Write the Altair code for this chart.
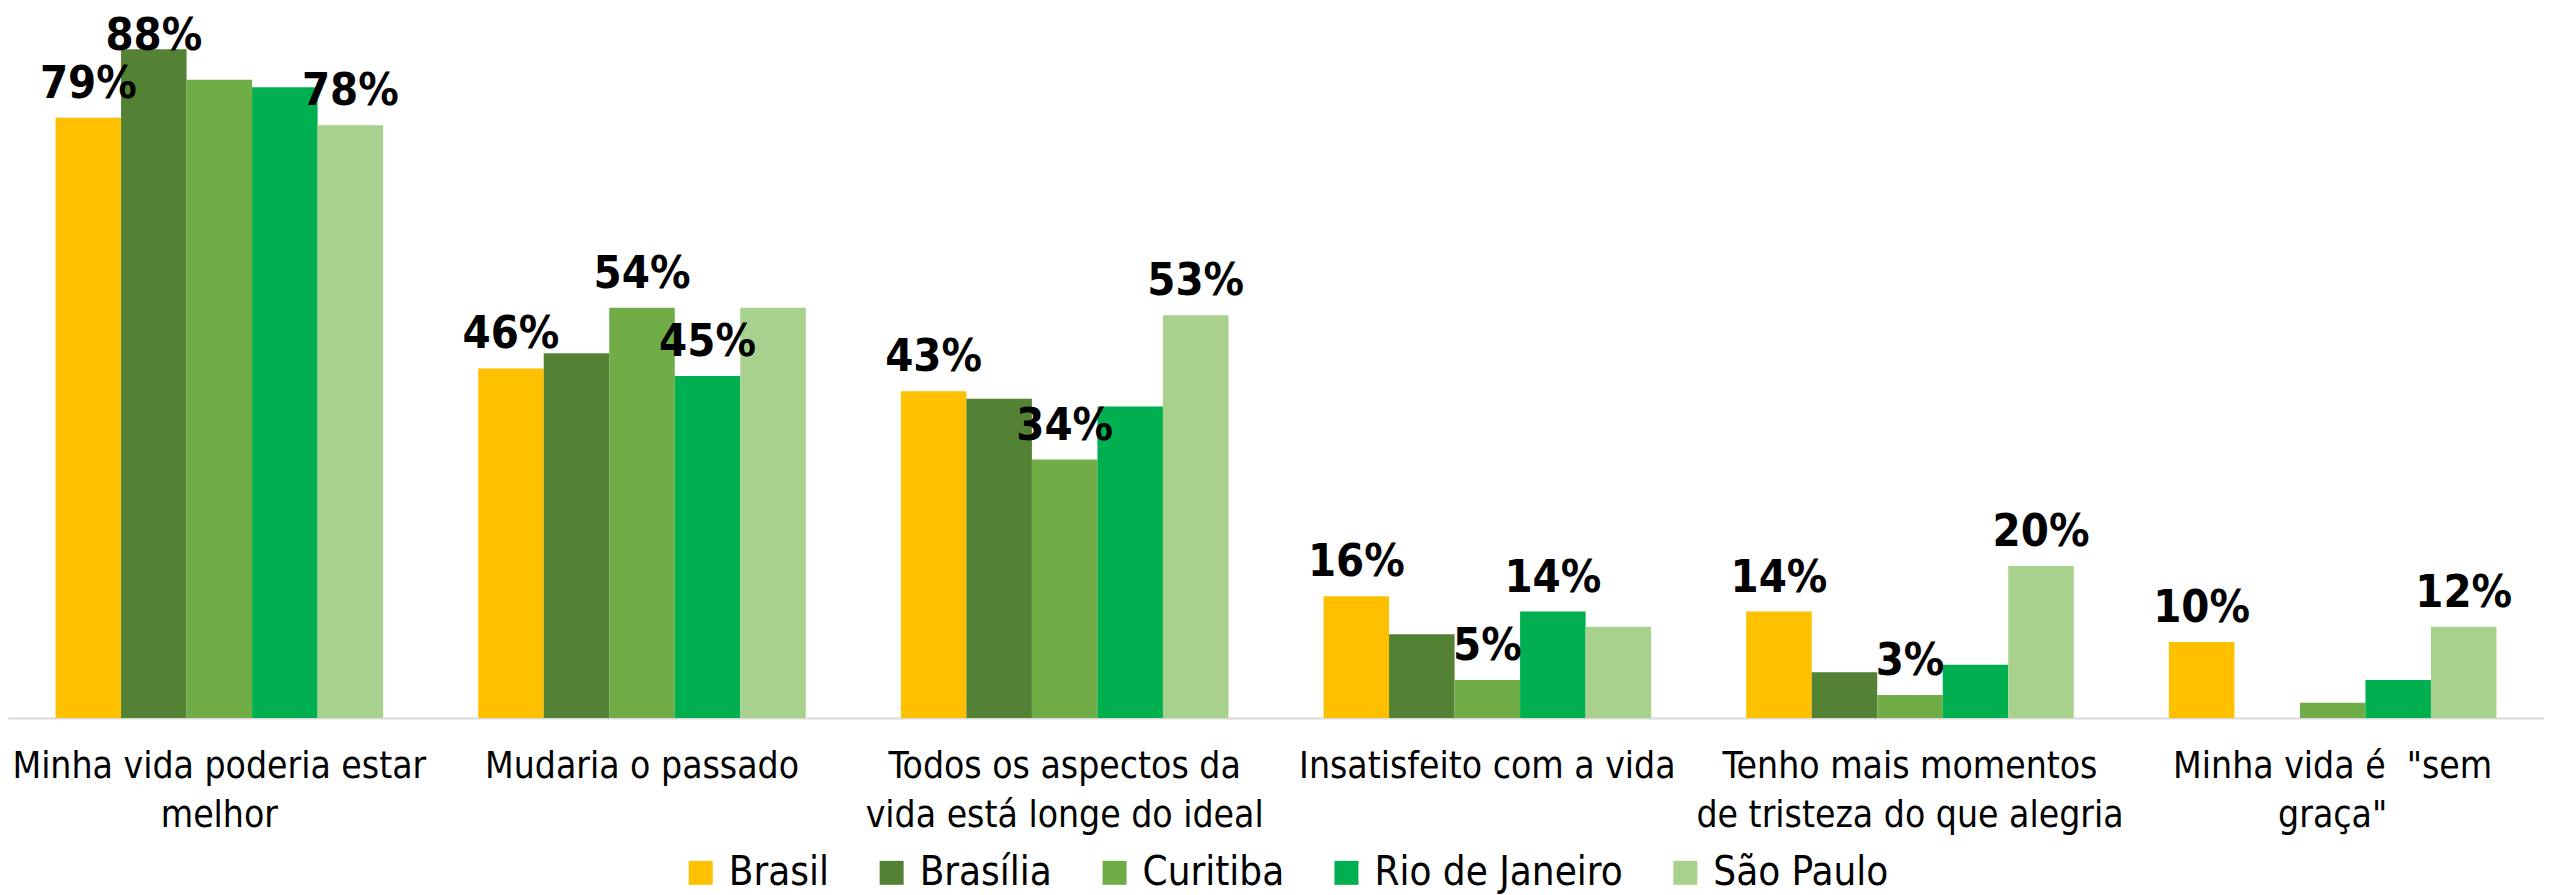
import json
import altair as alt
import pandas as pd

categories = [
    "Minha vida poderia estar melhor",
    "Mudaria o passado",
    "Todos os aspectos da vida está longe do ideal",
    "Insatisfeito com a vida",
    "Tenho mais momentos de tristeza do que alegria",
    'Minha vida é  "sem graça"',
]
category_lines = [
    ["Minha vida poderia estar", "melhor"],
    ["Mudaria o passado"],
    ["Todos os aspectos da", "vida está longe do ideal"],
    ["Insatisfeito com a vida"],
    ["Tenho mais momentos", "de tristeza do que alegria"],
    ['Minha vida é\u00a0 "sem', 'graça"'],
]
series = ["Brasil", "Brasília", "Curitiba", "Rio de Janeiro", "São Paulo"]
colors = ["#FFC000", "#548235", "#70AD47", "#00B050", "#A9D18E"]

brasil = [79, 46, 43, 16, 14, 10]
brasilia = [88, 48, 42, 11, 6, 0]
curitiba = [84, 54, 34, 5, 3, 2]
rio = [83, 45, 41, 14, 7, 5]
sao_paulo = [78, 54, 53, 12, 20, 12]

# which data labels are displayed in the original
show_brasil = [True, True, True, True, True, True]
show_brasilia = [True, False, False, False, False, False]
show_curitiba = [False, True, True, True, True, False]
show_rio = [False, True, False, True, False, False]
show_sao_paulo = [True, False, True, False, True, True]

values = [brasil, brasilia, curitiba, rio, sao_paulo]
shows = [show_brasil, show_brasilia, show_curitiba, show_rio, show_sao_paulo]

rows = []
for s, vals, shw in zip(series, values, shows):
    for c, v, sh in zip(categories, vals, shw):
        rows.append({"categoria": c, "serie": s, "valor": v, "mostrar": sh,
                     "rotulo": f"{v}%"})
df = pd.DataFrame(rows)

label_map = json.dumps(dict(zip(categories, category_lines)), ensure_ascii=False)
FONT = "DejaVu Sans Condensed"

x = alt.X("categoria:N", sort=categories,
          scale=alt.Scale(paddingInner=0.225, paddingOuter=0.1125),
          axis=alt.Axis(title=None, labelAngle=0, ticks=False,
                        domainColor="#D9D9D9", domainWidth=2,
                        labelFont=FONT, labelFontSize=37,
                        labelColor="#000000", labelPadding=31,
                        labelLineHeight=49, labelLimit=0,
                        labelBaseline="top",
                        labelExpr=f"{label_map}[datum.label]"))
xo = alt.XOffset("serie:N", sort=series, scale=alt.Scale(paddingInner=0))
y = alt.Y("valor:Q", scale=alt.Scale(domain=[0, 90], nice=False),
          axis=None)
color = alt.Color("serie:N", sort=series,
                  scale=alt.Scale(domain=series, range=colors),
                  legend=alt.Legend(title=None, orient="none",
                                    legendX=673, legendY=819,
                                    direction="horizontal",
                                    symbolType="square", symbolSize=576,
                                    symbolStrokeWidth=0,
                                    labelFont=FONT,
                                    labelFontSize=40, labelColor="#000000",
                                    labelLimit=0, columnPadding=42,
                                    labelOffset=8))

bars = alt.Chart(df).mark_bar().encode(x=x, xOffset=xo, y=y, color=color)

# Excel keeps the labels inside the chart area: the highest label is pulled
# down onto its bar
labels = alt.Chart(df).transform_filter("datum.mostrar").transform_calculate(
    pos="min(datum.valor, 85.3)"
).mark_text(
    font=FONT, fontWeight="bold", fontSize=45, color="#000000",
    baseline="alphabetic", dy=-20
).encode(x=x, xOffset=xo,
         y=alt.Y("pos:Q", scale=alt.Scale(domain=[0, 90], nice=False), axis=None),
         text="rotulo:N")

chart = (bars + labels).properties(
    width=2537, height=684,
    autosize=alt.AutoSizeParams(type="none"),
    padding={"left": 0, "right": 0, "top": 26, "bottom": 177},
    background="#FFFFFF",
).configure_view(stroke=None)

chart.save("out.html", embed_options={"renderer": "svg", "actions": False})
